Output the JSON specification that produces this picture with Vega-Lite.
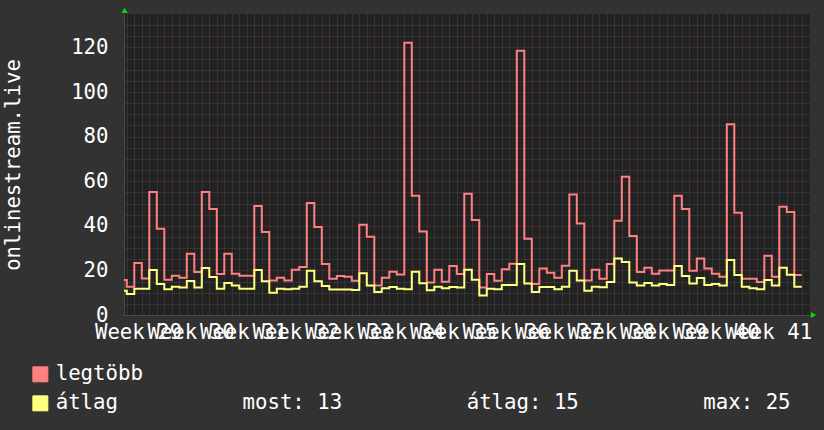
{
  "$schema": "https://vega.github.io/schema/vega-lite/v6.json",
  "width": 686,
  "height": 301,
  "autosize": {"type": "none"},
  "padding": {"left": 124, "top": 14, "right": 14, "bottom": 115},
  "background": "#323232",
  "config": {
    "view": {"fill": "#222222", "stroke": null},
    "font": "DejaVu Sans Mono",
    "axis": {
      "labelFont": "DejaVu Sans Mono",
      "labelFontSize": 20.7,
      "labelColor": "#ffffff",
      "titleFont": "DejaVu Sans Mono",
      "titleFontSize": 20.7,
      "titleColor": "#ffffff",
      "titleFontWeight": "normal",
      "ticks": false,
      "tickSize": 0,
      "domainColor": "#4a4a4a",
      "gridDash": [1, 1],
      "gridWidth": 1,
      "labelOverlap": false,
      "labelFlush": false,
      "labelBound": false
    }
  },
  "resolve": {"axis": {"x": "independent", "y": "independent"}},
  "layer": [
    {
      "data": {
        "values": [
          {"d": 1, "legtöbb": 15.7, "átlag": 10.9},
          {"d": 2, "legtöbb": 12.7, "átlag": 9.4},
          {"d": 3, "legtöbb": 23.3, "átlag": 11.8},
          {"d": 4, "legtöbb": 16.4, "átlag": 11.8},
          {"d": 5, "legtöbb": 55.2, "átlag": 20.2},
          {"d": 6, "legtöbb": 38.7, "átlag": 13.9},
          {"d": 7, "legtöbb": 15.8, "átlag": 11.5},
          {"d": 8, "legtöbb": 17.6, "átlag": 12.7},
          {"d": 9, "legtöbb": 16.7, "átlag": 12.3},
          {"d": 10, "legtöbb": 27.5, "átlag": 15.2},
          {"d": 11, "legtöbb": 19.3, "átlag": 12.3},
          {"d": 12, "legtöbb": 55.2, "átlag": 21.1},
          {"d": 13, "legtöbb": 47.5, "átlag": 17.0},
          {"d": 14, "legtöbb": 18.4, "átlag": 11.8},
          {"d": 15, "legtöbb": 27.5, "átlag": 14.3},
          {"d": 16, "legtöbb": 18.5, "átlag": 13.2},
          {"d": 17, "legtöbb": 17.6, "átlag": 11.8},
          {"d": 18, "legtöbb": 17.6, "átlag": 11.8},
          {"d": 19, "legtöbb": 48.9, "átlag": 20.2},
          {"d": 20, "legtöbb": 37.2, "átlag": 15.1},
          {"d": 21, "legtöbb": 15.5, "átlag": 10.0},
          {"d": 22, "legtöbb": 16.7, "átlag": 11.8},
          {"d": 23, "legtöbb": 15.5, "átlag": 11.5},
          {"d": 24, "legtöbb": 20.3, "átlag": 11.8},
          {"d": 25, "legtöbb": 21.5, "átlag": 12.7},
          {"d": 26, "legtöbb": 50.2, "átlag": 19.9},
          {"d": 27, "legtöbb": 39.5, "átlag": 15.1},
          {"d": 28, "legtöbb": 22.9, "átlag": 13.0},
          {"d": 29, "legtöbb": 16.3, "átlag": 11.4},
          {"d": 30, "legtöbb": 17.5, "átlag": 11.4},
          {"d": 31, "legtöbb": 17.2, "átlag": 11.4},
          {"d": 32, "legtöbb": 15.4, "átlag": 11.2},
          {"d": 33, "legtöbb": 40.5, "átlag": 18.7},
          {"d": 34, "legtöbb": 35.1, "átlag": 13.2},
          {"d": 35, "legtöbb": 13.2, "átlag": 10.3},
          {"d": 36, "legtöbb": 16.7, "átlag": 12.0},
          {"d": 37, "legtöbb": 19.4, "átlag": 12.6},
          {"d": 38, "legtöbb": 18.2, "átlag": 11.8},
          {"d": 39, "legtöbb": 122.1, "átlag": 11.5},
          {"d": 40, "legtöbb": 53.5, "átlag": 19.4},
          {"d": 41, "legtöbb": 37.5, "átlag": 14.2},
          {"d": 42, "legtöbb": 14.6, "átlag": 11.1},
          {"d": 43, "legtöbb": 20.3, "átlag": 12.7},
          {"d": 44, "legtöbb": 14.9, "átlag": 12.0},
          {"d": 45, "legtöbb": 22.0, "átlag": 12.6},
          {"d": 46, "legtöbb": 18.4, "átlag": 12.3},
          {"d": 47, "legtöbb": 54.4, "átlag": 20.3},
          {"d": 48, "legtöbb": 42.6, "átlag": 15.8},
          {"d": 49, "legtöbb": 12.3, "átlag": 8.7},
          {"d": 50, "legtöbb": 18.4, "átlag": 11.8},
          {"d": 51, "legtöbb": 15.4, "átlag": 11.5},
          {"d": 52, "legtöbb": 20.5, "átlag": 13.5},
          {"d": 53, "legtöbb": 23.0, "átlag": 13.5},
          {"d": 54, "legtöbb": 118.5, "átlag": 22.9},
          {"d": 55, "legtöbb": 34.2, "átlag": 14.1},
          {"d": 56, "legtöbb": 13.9, "átlag": 10.3},
          {"d": 57, "legtöbb": 20.9, "átlag": 12.6},
          {"d": 58, "legtöbb": 19.0, "átlag": 12.6},
          {"d": 59, "legtöbb": 16.7, "átlag": 11.5},
          {"d": 60, "legtöbb": 22.1, "átlag": 12.7},
          {"d": 61, "legtöbb": 54.1, "átlag": 19.9},
          {"d": 62, "legtöbb": 41.0, "átlag": 15.5},
          {"d": 63, "legtöbb": 15.5, "átlag": 10.9},
          {"d": 64, "legtöbb": 20.3, "átlag": 12.7},
          {"d": 65, "legtöbb": 16.3, "átlag": 12.4},
          {"d": 66, "legtöbb": 22.9, "átlag": 14.8},
          {"d": 67, "legtöbb": 42.3, "átlag": 25.3},
          {"d": 68, "legtöbb": 62.0, "átlag": 23.8},
          {"d": 69, "legtöbb": 35.4, "átlag": 14.6},
          {"d": 70, "legtöbb": 19.3, "átlag": 13.2},
          {"d": 71, "legtöbb": 21.2, "átlag": 14.3},
          {"d": 72, "legtöbb": 18.5, "átlag": 13.2},
          {"d": 73, "legtöbb": 20.0, "átlag": 13.9},
          {"d": 74, "legtöbb": 20.0, "átlag": 13.5},
          {"d": 75, "legtöbb": 53.5, "átlag": 22.0},
          {"d": 76, "legtöbb": 47.5, "átlag": 17.5},
          {"d": 77, "legtöbb": 19.9, "átlag": 14.1},
          {"d": 78, "legtöbb": 25.3, "átlag": 16.6},
          {"d": 79, "legtöbb": 20.8, "átlag": 13.5},
          {"d": 80, "legtöbb": 18.5, "átlag": 13.9},
          {"d": 81, "legtöbb": 17.2, "átlag": 13.2},
          {"d": 82, "legtöbb": 85.5, "átlag": 24.7},
          {"d": 83, "legtöbb": 45.9, "átlag": 17.9},
          {"d": 84, "legtöbb": 16.3, "átlag": 12.7},
          {"d": 85, "legtöbb": 16.3, "átlag": 12.0},
          {"d": 86, "legtöbb": 14.8, "átlag": 11.5},
          {"d": 87, "legtöbb": 26.6, "átlag": 15.7},
          {"d": 88, "legtöbb": 17.2, "átlag": 13.2},
          {"d": 89, "legtöbb": 48.6, "átlag": 21.2},
          {"d": 90, "legtöbb": 46.2, "átlag": 18.1},
          {"d": 91, "legtöbb": 17.9, "átlag": 12.7},
          {"d": 92, "legtöbb": 17.9, "átlag": 12.7}
        ]
      },
      "transform": [{"fold": ["legtöbb", "átlag"], "as": ["s", "v"]}],
      "mark": {"type": "line", "interpolate": "step-after", "strokeWidth": 2, "clip": true},
      "encoding": {
        "x": {
          "field": "d",
          "type": "quantitative",
          "scale": {"domain": [1.627, 93.093], "nice": false, "zero": false},
          "axis": {
            "title": null,
            "orient": "bottom",
            "values": [2,3,3.5,4,5,6,7,8,9,10,10.5,11,12,13,14,15,16,17,17.5,18,19,20,21,22,23,24,24.5,25,26,27,28,29,30,31,31.5,32,33,34,35,36,37,38,38.5,39,40,41,42,43,44,45,45.5,46,47,48,49,50,51,52,52.5,53,54,55,56,57,58,59,59.5,60,61,62,63,64,65,66,66.5,67,68,69,70,71,72,73,73.5,74,75,76,77,78,79,80,80.5,81,82,83,84,85,86,87,87.5,88,89,90,91,92],
            "grid": true,
            "gridColor": {"condition": {"test": "datum.value % 7 === 0", "value": "#6a3232"}, "value": "#474747"},
            "gridDash": {"condition": {"test": "datum.value % 1 !== 0", "value": [0, 1000]}, "value": [1, 1]},
            "labelExpr": "(datum.value - 3.5) % 7 === 0 ? 'Week ' + (29 + floor(datum.value / 7)) : ''",
            "labelPadding": 7
          }
        },
        "y": {
          "field": "v",
          "type": "quantitative",
          "scale": {"domain": [0, 135], "nice": false},
          "axis": {
            "title": "onlinestream.live",
            "orient": "left",
            "titleAngle": -90,
            "titleBaseline": "alphabetic",
            "titleAlign": "center",
            "titleX": -105,
            "titleY": 150.5,
            "values": [0,5,10,15,20,25,30,35,40,45,50,55,60,65,70,75,80,85,90,95,100,105,110,115,120,125,130],
            "grid": true,
            "gridColor": {"condition": {"test": "datum.value % 20 === 0", "value": "#6a3232"}, "value": "#474747"},
            "labelExpr": "datum.value % 20 === 0 ? datum.label : ''",
            "labelPadding": 16
          }
        },
        "color": {
          "field": "s",
          "type": "nominal",
          "sort": ["legtöbb", "átlag"],
          "scale": {"domain": ["legtöbb", "átlag"], "range": ["#ff8080", "#ffff80"]},
          "legend": {
            "title": null,
            "orient": "none",
            "legendX": -94,
            "legendY": 350,
            "direction": "vertical",
            "padding": 0,
            "symbolType": "square",
            "symbolSize": 225,
            "symbolStrokeWidth": 1,
            "labelFont": "DejaVu Sans Mono",
            "labelFontSize": 20.7,
            "labelColor": "#ffffff",
            "labelOffset": 5,
            "rowPadding": 7,
            "labelLimit": 900,
            "labelExpr": "datum.label === 'átlag' ? 'átlag\u00a0\u00a0\u00a0\u00a0\u00a0\u00a0\u00a0\u00a0\u00a0\u00a0most:\u00a013\u00a0\u00a0\u00a0\u00a0\u00a0\u00a0\u00a0\u00a0\u00a0\u00a0átlag:\u00a015\u00a0\u00a0\u00a0\u00a0\u00a0\u00a0\u00a0\u00a0\u00a0\u00a0max:\u00a025' : datum.label",
            "encode": {
              "symbols": {
                "update": {
                  "fill": {"scale": "color", "field": "value"},
                  "fillOpacity": {"value": 1},
                  "stroke": {"value": "#1e1e1e"},
                  "strokeWidth": {"value": 1},
                  "opacity": {"value": 1}
                }
              }
            }
          }
        }
      }
    },
    {
      "data": {"values": [{}]},
      "mark": {"type": "point", "shape": "triangle-up", "size": 36, "filled": true, "color": "#00dd00", "opacity": 1, "clip": false},
      "encoding": {
        "x": {"datum": 1.7, "type": "quantitative", "axis": null},
        "y": {"datum": 136.6, "type": "quantitative", "axis": null}
      }
    },
    {
      "data": {"values": [{}]},
      "mark": {"type": "point", "shape": "triangle-right", "size": 36, "filled": true, "color": "#00dd00", "opacity": 1, "clip": false},
      "encoding": {
        "x": {"datum": 93.56, "type": "quantitative", "axis": null},
        "y": {"datum": 0, "type": "quantitative", "axis": null}
      }
    }
  ]
}
